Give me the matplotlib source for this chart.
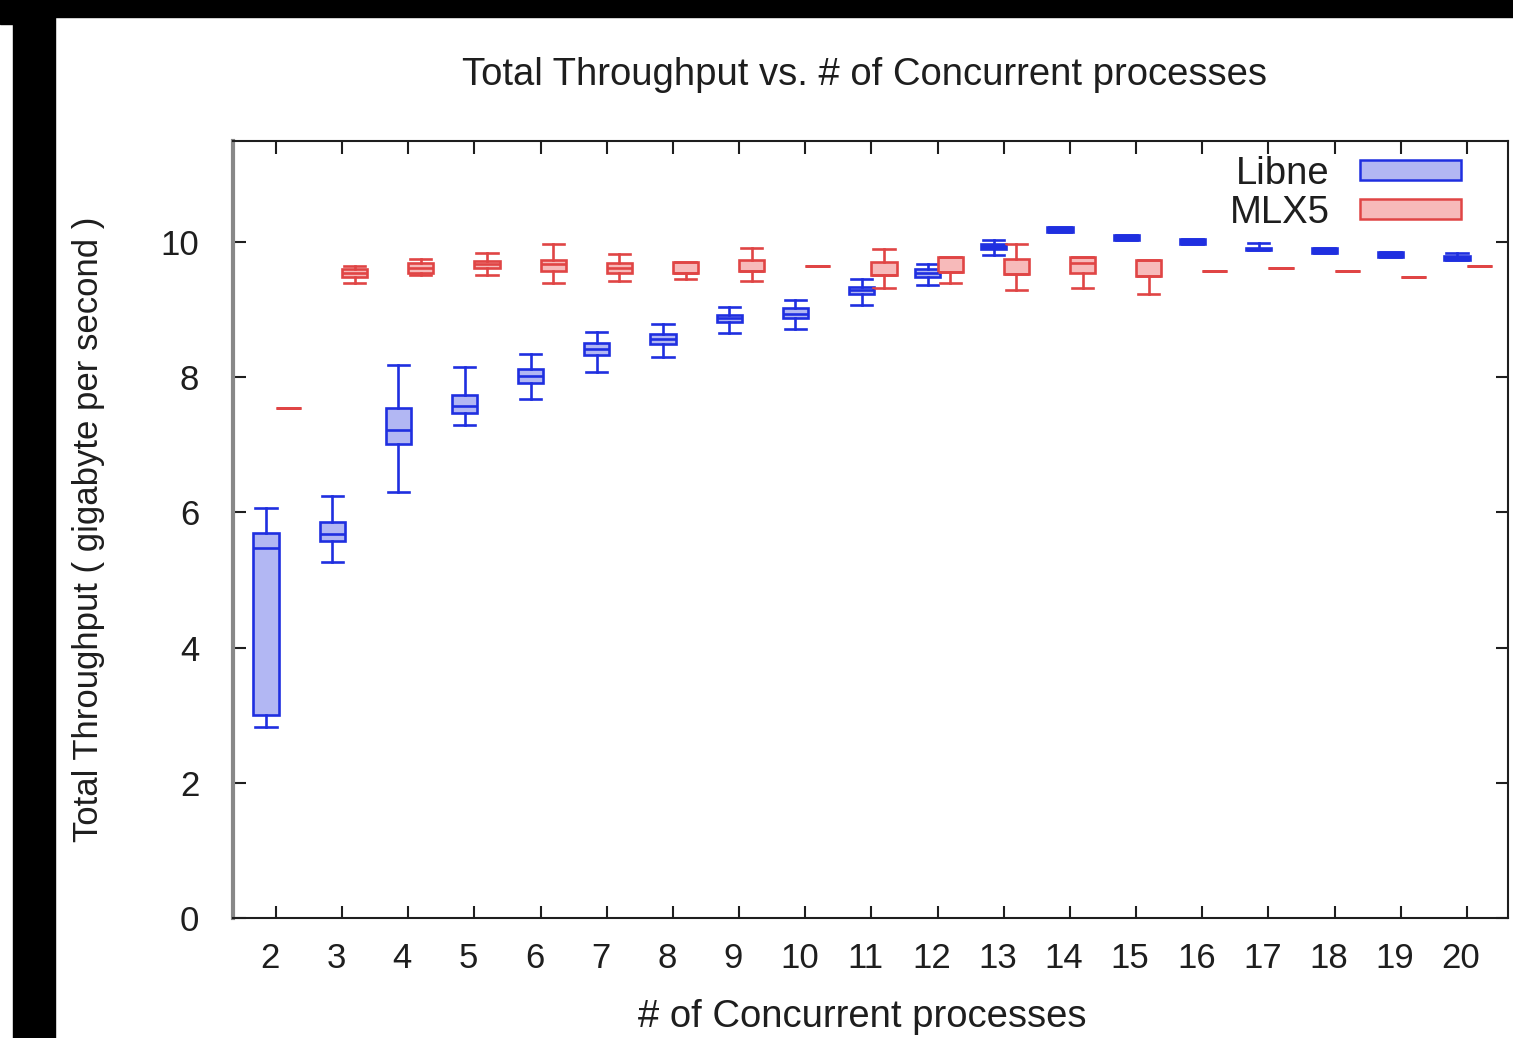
import matplotlib
matplotlib.use("Agg")
import matplotlib.pyplot as plt
from matplotlib.patches import Patch, Rectangle
from matplotlib.transforms import ScaledTranslation

plt.rcParams['font.family'] = ['Liberation Sans', 'DejaVu Sans']

procs = list(range(2, 21))

# Libne: whisker low, q1, median, q3, whisker high
libne_lo = [2.82, 5.26, 6.31, 7.30, 7.68, 8.08, 8.30, 8.66, 8.72, 9.07, 9.36, 9.81, 10.15, 10.03, 9.97, 9.88, 9.84, 9.78, 9.73]
libne_q1 = [3.01, 5.58, 7.02, 7.47, 7.92, 8.33, 8.49, 8.82, 8.88, 9.23, 9.48, 9.90, 10.15, 10.03, 9.97, 9.89, 9.84, 9.78, 9.74]
libne_med = [5.47, 5.68, 7.22, 7.58, 8.02, 8.42, 8.57, 8.88, 8.94, 9.29, 9.55, 9.94, 10.19, 10.07, 10.01, 9.90, 9.88, 9.82, 9.76]
libne_q3 = [5.70, 5.86, 7.55, 7.74, 8.12, 8.51, 8.64, 8.92, 9.02, 9.34, 9.60, 9.97, 10.23, 10.11, 10.05, 9.92, 9.92, 9.86, 9.79]
libne_hi = [6.06, 6.25, 8.18, 8.15, 8.35, 8.67, 8.79, 9.04, 9.14, 9.45, 9.68, 10.03, 10.23, 10.11, 10.05, 9.98, 9.92, 9.86, 9.84]

# MLX5
mlx5_lo = [7.55, 9.39, 9.52, 9.52, 9.39, 9.42, 9.45, 9.42, 9.65, 9.32, 9.40, 9.29, 9.32, 9.23, 9.57, 9.62, 9.57, 9.48, 9.64]
mlx5_q1 = [7.55, 9.48, 9.55, 9.62, 9.57, 9.54, 9.54, 9.57, 9.65, 9.51, 9.56, 9.53, 9.54, 9.50, 9.57, 9.62, 9.57, 9.48, 9.64]
mlx5_med = [7.55, 9.54, 9.62, 9.67, 9.67, 9.62, 9.54, 9.57, 9.65, 9.51, 9.56, 9.53, 9.69, 9.50, 9.57, 9.62, 9.57, 9.48, 9.64]
mlx5_q3 = [7.55, 9.60, 9.69, 9.72, 9.73, 9.69, 9.71, 9.73, 9.65, 9.71, 9.78, 9.75, 9.78, 9.73, 9.57, 9.62, 9.57, 9.48, 9.64]
mlx5_hi = [7.55, 9.65, 9.75, 9.84, 9.97, 9.82, 9.71, 9.91, 9.65, 9.90, 9.78, 9.97, 9.78, 9.73, 9.57, 9.62, 9.57, 9.48, 9.64]

BLUE = '#1f2fe0'
BLUE_FILL = '#b2b7f3'
RED = '#e04545'
RED_FILL = '#f7baba'
TXT = '#1e1e1e'


def make_stats(lo, q1, med, q3, hi):
    return [dict(whislo=a, q1=b, med=c, q3=d, whishi=e, fliers=[])
            for a, b, c, d, e in zip(lo, q1, med, q3, hi)]


def draw(ax, stats, offset, edge, fill):
    res = ax.bxp(stats, positions=[p + offset for p in procs], widths=0.38,
                 patch_artist=True, showfliers=False, manage_ticks=False,
                 boxprops=dict(facecolor=fill, edgecolor=edge, linewidth=1.9),
                 medianprops=dict(color=edge, linewidth=1.9),
                 whiskerprops=dict(color=edge, linewidth=1.9),
                 capprops=dict(color=edge, linewidth=1.9),
                 capwidths=0.32)
    # very tight boxes render as solid blobs in the original
    for box, st in zip(res['boxes'], stats):
        if 0 < st['q3'] - st['q1'] < 0.085:
            box.set_facecolor(edge)
    return res


fig = plt.figure(figsize=(15.13, 10.38), dpi=100)
ax = fig.add_axes([0.1538, 0.1156, 0.8429, 0.7488])

draw(ax, make_stats(libne_lo, libne_q1, libne_med, libne_q3, libne_hi), -0.15, BLUE, BLUE_FILL)
draw(ax, make_stats(mlx5_lo, mlx5_q1, mlx5_med, mlx5_q3, mlx5_hi), 0.19, RED, RED_FILL)

ax.set_xlim(1.346, 20.62)
ax.set_ylim(0, 11.5)
ax.set_xticks(procs)
ax.set_yticks([0, 2, 4, 6, 8, 10])
ax.tick_params(direction='in', length=9, width=1.5, top=True, right=True,
               labelsize=25, colors=TXT)
ax.tick_params(axis='x', pad=17)
ax.tick_params(axis='y', pad=24)
shift = ScaledTranslation(-6 / 100, 0, fig.dpi_scale_trans)
for lab in ax.get_xticklabels():
    lab.set_transform(lab.get_transform() + shift)
for side in ['top', 'right', 'bottom']:
    ax.spines[side].set_linewidth(1.5)
    ax.spines[side].set_color(TXT)
ax.spines['left'].set_linewidth(3)
ax.spines['left'].set_color('#888888')

ax.set_xlabel('# of Concurrent processes', fontsize=27.5, color=TXT)
ax.xaxis.set_label_coords(0.494, -0.104)
ax.set_ylabel('Total Throughput ( gigabyte per second )', fontsize=25, color=TXT, labelpad=40)
fig.text(864 / 1513, 1 - 75 / 1038, 'Total Throughput vs. # of Concurrent processes',
         fontsize=27.5, color=TXT, ha='center', va='center')

handles = [Patch(facecolor=BLUE_FILL, edgecolor=BLUE, linewidth=1.8, label='Libne'),
           Patch(facecolor=RED_FILL, edgecolor=RED, linewidth=1.8, label='MLX5')]
ax.legend(handles=handles, loc='upper right', bbox_to_anchor=(0.977, 1.003),
          frameon=False, markerfirst=False, fontsize=27.5, handlelength=2.65,
          handleheight=0.43, labelspacing=0.08, handletextpad=0.8,
          borderaxespad=0.05, labelcolor=TXT)

# black frame bands from the screenshot
fig.patches.append(Rectangle((0, 1 - 17 / 1038), 1, 17 / 1038, transform=fig.transFigure,
                             color='black', zorder=10))
fig.patches.append(Rectangle((13 / 1513, 0), 42 / 1513, 1, transform=fig.transFigure,
                             color='black', zorder=10))
fig.patches.append(Rectangle((0, 1 - 24 / 1038), 13 / 1513, 24 / 1038, transform=fig.transFigure,
                             color='black', zorder=10))

fig.savefig('out.png', dpi=100)
